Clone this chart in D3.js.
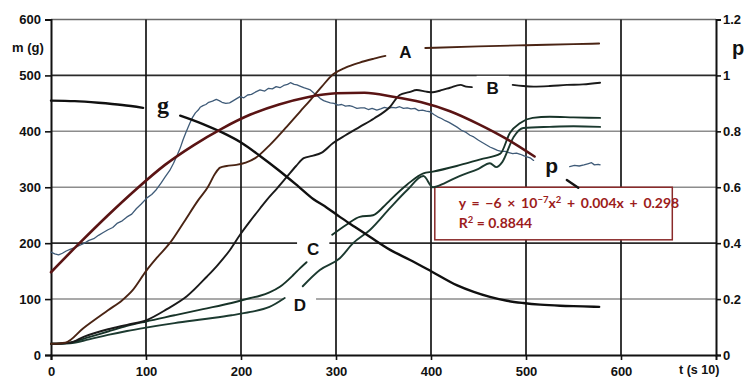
<!DOCTYPE html>
<html>
<head>
<meta charset="utf-8">
<script src="https://cdn.jsdelivr.net/npm/d3@7"></script>
<style>
  body { margin: 0; background: #fff; }
  svg { display: block; }
</style>
</head>
<body>
<svg id="chart" width="748" height="378"></svg>
<script>
// ---- axis ticks ----
const timeTicks = [0, 100, 200, 300, 400, 500, 600];
const massTicks = [0, 100, 200, 300, 400, 500, 600];
const pTicks = [0, 0.2, 0.4, 0.6, 0.8, 1.0, 1.2];
const pTickLabels = ["0", "0.2", "0.4", "0.6", "0.8", "1", "1.2"];

// ---- series: [t (s·10), m (g)]; each series may have several segments ----
const seriesA = [
  [[0,20],[15,22],[34,48],[60,80],[75,98],[86,116],[100,150],[112,175],[125,200],[140,238],[155,277],[165,300],[173,325],[178,335],[185,338],[195,340],[205,344],[215,352],[230,375],[248,408],[262,435],[273,456],[285,480],[297,502],[310,514],[325,523],[340,530],[352,535]],
  [[394,549],[450,552],[500,554],[550,556],[577,557]]
];
const seriesB = [
  [[0,20],[20,22],[35,33],[60,46],[80,54],[100,62],[122,82],[143,105],[164,140],[175,160],[188,187],[199,215],[209,238],[220,262],[227,277],[238,298],[248,318],[258,338],[266,352],[275,356],[285,362],[297,379],[310,393],[325,408],[340,423],[357,444],[367,465],[377,470],[385,474],[395,471],[402,470],[412,474],[420,478],[431,483],[437,480],[443,479]],
  [[486,483],[497,481],[508,480],[525,481],[543,483],[560,484],[578,487]]
];
const seriesC = [
  [[0,20],[20,22],[40,32],[60,42],[80,52],[100,60],[130,71],[160,82],[190,93],[210,102],[220,106],[230,112],[241,122],[255,143],[262,155],[269,166]],
  [[296,215],[311,233],[325,247],[339,250],[350,265],[357,277],[375,305],[392,325],[402,328],[427,338],[452,350],[473,360],[483,397],[494,415],[507,424],[525,426],[550,425],[578,424]]
];
const seriesD = [
  [[0,20],[20,21],[40,28],[60,36],[80,43],[100,49],[130,57],[160,64],[190,71],[210,77],[230,86],[246,102]],
  [[265,123],[283,152],[304,173],[318,200],[336,224],[357,263],[375,295],[392,320],[402,300],[415,308],[430,320],[450,333],[462,343],[469,336],[475,345],[487,390],[497,406],[525,408],[550,409],[578,408]]
];
const seriesG = [
  [[0,455],[25,454],[50,451],[75,447],[97,442]],
  [[136,428],[160,413],[180,398],[200,380],[220,356],[240,330],[260,302],[276,279],[290,264],[304,247],[320,229],[336,211],[357,188],[378,170],[401,149],[427,125],[445,113],[462,104],[480,97],[497,93],[515,90],[536,88],[560,87],[577,86]]
];
const seriesP = [
  [[0,184],[4,181],[8,179],[12,182],[16,186],[20,189],[25,192],[30,196],[34,199],[40,205],[45,208],[50,214],[55,219],[60,224],[65,228],[70,236],[75,240],[80,247],[85,252],[90,262],[95,270],[101,281],[106,287],[111,296],[116,308],[120,318],[125,330],[129,343],[133,358],[136,370],[139,385],[142,398],[146,414],[149,425],[152,433],[155,438],[157,443],[160,446],[163,448],[166,452],[170,454],[174,457],[177,455],[180,452],[184,450],[188,451],[192,455],[195,458],[199,462],[203,460],[207,465],[211,466],[215,470],[220,474],[225,472],[229,477],[233,476],[237,480],[241,478],[245,482],[249,484],[252,487],[256,484],[259,483],[262,481],[266,478],[270,476],[273,474],[277,468],[280,464],[284,458],[287,455],[290,453],[294,451],[298,450],[302,447],[306,448],[310,445],[314,446],[318,444],[322,441],[326,442],[330,442],[334,439],[338,441],[343,438],[347,440],[351,443],[355,441],[359,443],[363,442],[367,444],[371,441],[375,442],[379,440],[383,441],[387,437],[391,438],[395,436],[399,435],[403,430],[407,426],[411,423],[415,419],[419,416],[423,412],[427,408],[432,402],[437,398],[441,393],[445,390],[450,384],[454,380],[458,376],[462,372],[466,369],[470,366],[474,364],[478,364],[482,362],[486,360],[490,361],[494,359],[498,356],[502,354],[505,352],[508,348]],
  [[546,337],[551,339],[556,338],[561,340],[565,342],[569,344],[572,340],[576,341],[578,340]]
];
// quadratic trend of p, plotted in mass units
const seriesTrend = [
  [[0,148],[30,200],[60,250],[90,297],[120,340],[150,375],[180,405],[210,430],[240,448],[270,461],[300,468],[330,469],[360,462],[390,452],[420,436],[450,413],[480,386],[509,355]]
];
const trendLeader = [[543,313],[555,299]];

// ---- layout ----
const svg = d3.select("#chart");
const x = d3.scaleLinear().domain([0, 700]).range([51, 716]);
const y = d3.scaleLinear().domain([0, 600]).range([355, 19.5]);
const yP = d3.scaleLinear().domain([0, 1.2]).range([355, 19.5]);

const axisFont = "'Liberation Sans', Arial, sans-serif";

const gridLayer = svg.append("g");
const axisLayer = svg.append("g");
const patchLayer = svg.append("g");
const curveLayer = svg.append("g");
const textLayer = svg.append("g");

// horizontal grid
const darkRows = new Set([200, 500]);
gridLayer.append("g").selectAll("line")
  .data(massTicks.filter(d => d > 0))
  .join("line")
  .attr("x1", x(0)).attr("x2", x(700))
  .attr("y1", d => y(d)).attr("y2", d => y(d))
  .attr("stroke", d => d === 600 ? "#6a6a6a" : (darkRows.has(d) ? "#2a2a2a" : "#8c8c8c"))
  .attr("stroke-width", d => darkRows.has(d) ? 1.7 : 1.5);

// vertical grid
gridLayer.append("g").selectAll("line")
  .data(timeTicks.filter(d => d > 0))
  .join("line")
  .attr("x1", d => x(d)).attr("x2", d => x(d))
  .attr("y1", y(600)).attr("y2", y(0))
  .attr("stroke", "#151515")
  .attr("stroke-width", 1.7);

// axes
const gLeft = axisLayer.append("g").attr("transform", `translate(${x(0)},0)`)
  .call(d3.axisLeft(y).tickValues(massTicks).tickSize(6).tickPadding(4));
const gBottom = axisLayer.append("g").attr("transform", `translate(0,${y(0)})`)
  .call(d3.axisBottom(x).tickValues(timeTicks).tickSize(5).tickPadding(7));
const gRight = axisLayer.append("g").attr("transform", `translate(${x(700)},0)`)
  .call(d3.axisRight(yP).tickValues(pTicks).tickSize(5).tickPadding(2)
    .tickFormat((d, i) => pTickLabels[i]));

[gLeft, gBottom, gRight].forEach(g => {
  g.select(".domain").attr("stroke", "#111").attr("stroke-width", 2);
  g.selectAll(".tick line").attr("stroke", "#111").attr("stroke-width", 1.6);
  g.selectAll(".tick text")
    .attr("fill", "#111")
    .style("font-family", axisFont)
    .style("font-weight", "bold")
    .style("font-size", "13px");
});

// text placed on an optional white patch that interrupts grid lines beneath it
function label(px, py, txt, opts) {
  const o = Object.assign({ size: 13, family: axisFont, anchor: "start", padX: 4, padY: 4, box: false }, opts || {});
  const t = textLayer.append("text")
    .attr("x", px).attr("y", py)
    .attr("text-anchor", o.anchor)
    .attr("fill", "#111")
    .style("font-family", o.family)
    .style("font-weight", "bold")
    .style("font-size", o.size + "px")
    .text(txt);
  if (o.box) {
    const b = t.node().getBBox();
    patchLayer.append("rect")
      .attr("x", b.x - o.padX).attr("y", b.y - o.padY)
      .attr("width", b.width + 2 * o.padX).attr("height", b.height + 2 * o.padY)
      .attr("fill", "#fff");
  }
  return t;
}

// axis titles
label(12, 52, "m (g)", { box: true, padX: 3, padY: 9 });
label(679, 374, "t (s 10)", { size: 12.5 });
label(732, 55, "p", { size: 20 });

// curve labels
const curveLabels = [
  { t: 373, m: 531, text: "A", size: 17 },
  { t: 465, m: 467, text: "B", size: 17 },
  { t: 276, m: 178, text: "C", size: 17 },
  { t: 262, m: 79, text: "D", size: 17 },
  { t: 527, m: 326, text: "p", size: 21 },
  { t: 118, m: 433, text: "g", size: 24, family: "'Liberation Serif', 'DejaVu Serif', serif" }
];
curveLabels.forEach(l => label(x(l.t), y(l.m), l.text,
  { size: l.size, family: l.family || axisFont, anchor: "middle", box: true, padX: 10, padY: 3 }));

// equation box
const eqBox = { t0: 404, t1: 654, m0: 206, m1: 300 };
patchLayer.append("rect")
  .attr("x", x(eqBox.t0)).attr("y", y(eqBox.m1))
  .attr("width", x(eqBox.t1) - x(eqBox.t0)).attr("height", y(eqBox.m0) - y(eqBox.m1))
  .attr("fill", "#fff").attr("stroke", "#8a2a2a").attr("stroke-width", 1.5);

// curves
const smooth = d3.line().x(d => x(d[0])).y(d => y(d[1])).curve(d3.curveMonotoneX);
const straight = d3.line().x(d => x(d[0])).y(d => y(d[1]));

function drawSeries(segs, color, width, gen) {
  curveLayer.append("g").selectAll("path")
    .data(segs).join("path")
    .attr("d", gen || smooth)
    .attr("fill", "none")
    .attr("stroke", color)
    .attr("stroke-width", width)
    .attr("stroke-linejoin", "round")
    .attr("stroke-linecap", "round");
}

drawSeries(seriesP, "#3f5b78", 1.3, straight);
drawSeries(seriesD, "#1c3a30", 1.9);
drawSeries(seriesC, "#173328", 1.9);
drawSeries(seriesB, "#1a1a1a", 1.9);
drawSeries(seriesA, "#4a2414", 1.9);
drawSeries(seriesG, "#101010", 2.4);
drawSeries(seriesTrend, "#5a1414", 2.6);
drawSeries([trendLeader], "#151515", 2.4, straight);

// equation text
const eqFont = "Lato, 'Open Sans', sans-serif";
const textLeft = x(eqBox.t0) + 24;
const eq = textLayer.append("text")
  .attr("x", textLeft).attr("y", y(eqBox.m1) + 21)
  .attr("fill", "#9c1c1c")
  .style("word-spacing", "2.3px")
  .style("font-family", eqFont).style("font-weight", "bold").style("font-size", "14px");
eq.append("tspan").text("y = \u22126 \u00d7 10");
eq.append("tspan").attr("dy", -5).style("font-size", "9.5px").text("\u22127");
eq.append("tspan").attr("dy", 5).text("x");
eq.append("tspan").attr("dy", -5).style("font-size", "9.5px").text("2");
eq.append("tspan").attr("dy", 5).text(" + 0.004x + 0.298");

const r2 = textLayer.append("text")
  .attr("x", textLeft).attr("y", y(eqBox.m1) + 41)
  .attr("fill", "#9c1c1c")
  .style("font-family", eqFont).style("font-weight", "bold").style("font-size", "14px");
r2.append("tspan").text("R");
r2.append("tspan").attr("dy", -5).style("font-size", "9.5px").text("2");
r2.append("tspan").attr("dy", 5).text(" = 0.8844");
</script>
</body>
</html>
